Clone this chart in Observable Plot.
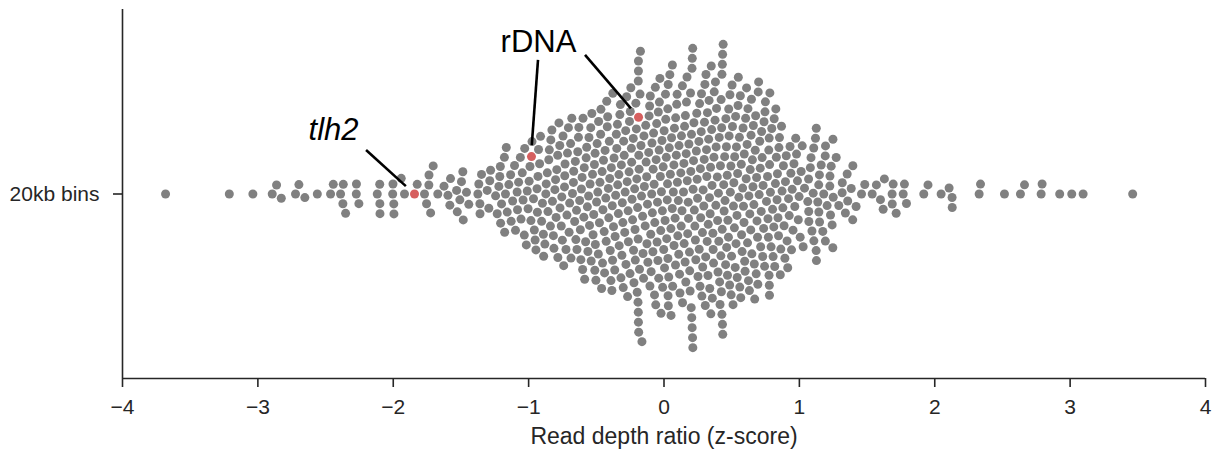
<!DOCTYPE html>
<html>
<head>
<meta charset="utf-8">
<script src="https://cdn.jsdelivr.net/npm/d3@7"></script>
<script src="https://cdn.jsdelivr.net/npm/@observablehq/plot@0.6"></script>
<style>
  html, body { margin: 0; padding: 0; background: #fff; }
  svg { display: block; }
</style>
</head>
<body>
<div id="chart"></div>
<script>
// Genome-wide read depth ratio of 20 kb bins (z-scores), drawn as a beeswarm.
const category = "20kb bins";
const xLabel = "Read depth ratio (z-score)";
const xTicks = [-4, -3, -2, -1, 0, 1, 2, 3, 4];

// z-scores of all ordinary bins
const binScores = [
  -3.682, -3.211, -3.037, -2.894, -2.862, -2.827, -2.722, -2.697, -2.653, -2.561,
  -2.463, -2.443, -2.389, -2.372, -2.369, -2.352, -2.273, -2.272, -2.254, -2.118,
  -2.100, -2.099, -2.098, -2.004, -2.002, -1.996, -1.995, -1.941, -1.917,
  -1.823, -1.769, -1.754, -1.737, -1.736, -1.724, -1.705, -1.671, -1.625, -1.596,
  -1.582, -1.577, -1.532, -1.527, -1.508, -1.496, -1.486, -1.483, -1.459, -1.442,
  -1.375, -1.368, -1.360, -1.359, -1.348, -1.306, -1.294, -1.287, -1.281, -1.244,
  -1.232, -1.220, -1.213, -1.209, -1.207,
  -1.200, -1.179, -1.177, -1.171, -1.165, -1.158,
  -1.146, -1.133, -1.129, -1.118, -1.104,
  -1.097, -1.085, -1.082, -1.074, -1.061, -1.056,
  -1.047, -1.041, -1.032, -1.029, -1.017, -1.010, -1.004,
  -0.996, -0.990, -0.983, -0.975, -0.964, -0.958, -0.952,
  -0.946, -0.938, -0.935, -0.931, -0.927, -0.919, -0.912, -0.904,
  -0.898, -0.891, -0.889, -0.880, -0.873, -0.870, -0.862, -0.857, -0.851,
  -0.847, -0.839, -0.836, -0.828, -0.824, -0.817, -0.813, -0.806, -0.801,
  -0.797, -0.792, -0.785, -0.784, -0.776, -0.770, -0.768, -0.759, -0.755, -0.751,
  -0.746, -0.741, -0.735, -0.733, -0.731, -0.724, -0.717, -0.713, -0.706, -0.701,
  -0.697, -0.690, -0.687, -0.681, -0.676, -0.669, -0.667, -0.660, -0.655, -0.651,
  -0.646, -0.643, -0.637, -0.632, -0.629, -0.623, -0.618, -0.614, -0.610, -0.605, -0.601,
  -0.598, -0.592, -0.589, -0.586, -0.579, -0.575, -0.571, -0.566, -0.562, -0.557, -0.554, -0.550,
  -0.546, -0.541, -0.538, -0.533, -0.528, -0.524, -0.519, -0.514, -0.511, -0.509, -0.507, -0.503,
  -0.498, -0.494, -0.489, -0.485, -0.483, -0.477, -0.473, -0.468, -0.466, -0.461, -0.457, -0.454, -0.451,
  -0.447, -0.442, -0.439, -0.435, -0.430, -0.427, -0.423, -0.419, -0.416, -0.411, -0.408, -0.404, -0.401,
  -0.397, -0.392, -0.389, -0.385, -0.382, -0.380, -0.378, -0.373, -0.369, -0.364, -0.361, -0.357, -0.352,
  -0.349, -0.344, -0.342, -0.337, -0.333, -0.331, -0.326, -0.322, -0.318, -0.315, -0.311, -0.308, -0.304, -0.301,
  -0.298, -0.294, -0.290, -0.287, -0.283, -0.281, -0.276, -0.272, -0.269, -0.265, -0.263, -0.258, -0.255, -0.251,
  -0.249, -0.245, -0.241, -0.239, -0.236, -0.232, -0.227, -0.225, -0.222, -0.217, -0.214, -0.212, -0.208, -0.204, -0.201,
  -0.198, -0.195, -0.192, -0.191, -0.190, -0.190, -0.189, -0.189, -0.189, -0.187, -0.186, -0.184, -0.181, -0.177, -0.174, -0.170, -0.166, -0.163, -0.158, -0.155, -0.151,
  -0.148, -0.145, -0.139, -0.135, -0.132, -0.128, -0.126, -0.122, -0.119, -0.113, -0.110, -0.106, -0.104, -0.101,
  -0.098, -0.095, -0.091, -0.089, -0.086, -0.082, -0.080, -0.077, -0.073, -0.070, -0.068, -0.064, -0.061, -0.058, -0.054, -0.051,
  -0.048, -0.045, -0.042, -0.039, -0.036, -0.034, -0.030, -0.027, -0.024, -0.022, -0.019, -0.015, -0.012, -0.010, -0.006, -0.002,
  0.001, 0.004, 0.008, 0.011, 0.013, 0.017, 0.020, 0.024, 0.026, 0.028, 0.029, 0.030, 0.031, 0.032, 0.035, 0.039, 0.043, 0.047,
  0.051, 0.052, 0.056, 0.061, 0.062, 0.064, 0.069, 0.073, 0.074, 0.077, 0.082, 0.085, 0.086, 0.091, 0.094, 0.097, 0.099,
  0.102, 0.106, 0.109, 0.111, 0.115, 0.118, 0.124, 0.127, 0.129, 0.133, 0.136, 0.137, 0.144, 0.147, 0.149,
  0.152, 0.156, 0.158, 0.161, 0.164, 0.166, 0.170, 0.172, 0.175, 0.179, 0.181, 0.184, 0.188, 0.190, 0.193, 0.196, 0.198,
  0.201, 0.203, 0.205, 0.207, 0.208, 0.209, 0.211, 0.212, 0.213, 0.215, 0.218, 0.221, 0.224, 0.228, 0.232, 0.235, 0.239, 0.242, 0.245, 0.248,
  0.251, 0.258, 0.260, 0.263, 0.266, 0.269, 0.271, 0.275, 0.277, 0.280, 0.284, 0.286, 0.289, 0.294, 0.297, 0.299,
  0.302, 0.305, 0.308, 0.310, 0.314, 0.316, 0.319, 0.321, 0.325, 0.327, 0.330, 0.333, 0.336, 0.338, 0.341, 0.344, 0.346, 0.349,
  0.352, 0.355, 0.357, 0.361, 0.363, 0.366, 0.369, 0.371, 0.377, 0.380, 0.383, 0.385, 0.388, 0.394, 0.396, 0.399,
  0.402, 0.405, 0.408, 0.411, 0.414, 0.417, 0.420, 0.422, 0.424, 0.426, 0.428, 0.428, 0.430, 0.431, 0.432, 0.433, 0.434, 0.437, 0.441, 0.444, 0.448,
  0.451, 0.455, 0.457, 0.461, 0.463, 0.467, 0.469, 0.472, 0.476, 0.478, 0.481, 0.485, 0.487, 0.490, 0.494, 0.496, 0.499,
  0.503, 0.506, 0.510, 0.513, 0.516, 0.520, 0.522, 0.526, 0.529, 0.532, 0.535, 0.539, 0.541, 0.544, 0.547, 0.549,
  0.553, 0.557, 0.560, 0.564, 0.567, 0.571, 0.573, 0.577, 0.581, 0.584, 0.587, 0.591, 0.593, 0.596, 0.599,
  0.603, 0.607, 0.610, 0.614, 0.617, 0.620, 0.624, 0.627, 0.631, 0.634, 0.637, 0.641, 0.643, 0.646, 0.649,
  0.653, 0.657, 0.660, 0.664, 0.667, 0.670, 0.674, 0.677, 0.681, 0.684, 0.687, 0.691, 0.693, 0.696, 0.699,
  0.703, 0.707, 0.711, 0.714, 0.718, 0.721, 0.725, 0.729, 0.732, 0.736, 0.739, 0.743, 0.746, 0.749,
  0.757, 0.765, 0.768, 0.771, 0.774, 0.776, 0.777, 0.778, 0.779, 0.780, 0.782, 0.786, 0.791, 0.796,
  0.802, 0.806, 0.811, 0.814, 0.818, 0.823, 0.826, 0.830, 0.835, 0.838, 0.842, 0.846, 0.849,
  0.853, 0.859, 0.863, 0.868, 0.872, 0.878, 0.882, 0.887, 0.893, 0.897,
  0.903, 0.909, 0.914, 0.920, 0.925, 0.931, 0.937, 0.942, 0.947,
  0.953, 0.960, 0.966, 0.973, 0.979, 0.986, 0.992, 0.998,
  1.006, 1.013, 1.021, 1.028, 1.038, 1.062, 1.068, 1.069, 1.070, 1.081,
  1.086, 1.093, 1.102, 1.106, 1.107, 1.119, 1.124, 1.125, 1.126, 1.136,
  1.143, 1.144, 1.148, 1.149, 1.161, 1.173, 1.180, 1.191, 1.192, 1.193,
  1.205, 1.225, 1.226, 1.230, 1.235, 1.242, 1.247, 1.248, 1.250, 1.272,
  1.291, 1.316, 1.317, 1.340, 1.353, 1.357, 1.383, 1.394, 1.395, 1.419,
  1.459, 1.483, 1.538, 1.569, 1.599, 1.619, 1.628, 1.685, 1.686, 1.693,
  1.715, 1.767, 1.776, 1.791, 1.919, 1.950, 2.047, 2.106, 2.128, 2.129,
  2.328, 2.338, 2.515, 2.633, 2.663, 2.786, 2.793, 2.923, 3.012, 3.096,
  3.462
];

// bins of interest, drawn in red and labelled
const highlightNames = ["tlh2", "rDNA", "rDNA"];
const highlightScores = [-1.843, -0.979, -0.188];

const grey = "#808080";
const red = "#d65f5f";
const ink = "#262626";
const font = "'Liberation Sans', Arial, Helvetica, sans-serif";

// one sorted table, so the swarm is packed from left to right
const points = [
  ...binScores.map((z) => ({z, hit: false})),
  ...highlightScores.map((z, i) => ({z, hit: true, name: highlightNames[i]}))
].sort((a, b) => a.z - b.z);

// label placement in chart units (the category band runs from -0.5 to 0.5)
const labelSpecs = [
  {text: "tlh2", z: -2.441, y: 0.172, italic: true},
  {text: "rDNA", z: -0.927, y: 0.411, italic: false}
];
// leader lines: start offset (px) from the label centre, then to the red dot
const leaderSpecs = [
  {label: 0, target: 0, start: [33, 20]},
  {label: 1, target: 1, start: [0, 18]},
  {label: 1, target: 2, start: [47, 13]}
];

const width = 1222, height = 454;
const margin = {top: 9, right: 17, bottom: 76, left: 122};

const chart = Plot.plot({
  width, height,
  marginTop: margin.top, marginRight: margin.right,
  marginBottom: margin.bottom, marginLeft: margin.left,
  style: {fontFamily: font, fontSize: "21px", color: ink, background: "#fff", overflow: "visible"},
  x: {domain: [-4, 4]},
  y: {domain: [-0.5, 0.5]},
  marks: [
    Plot.axisX({ticks: xTicks, tickSize: 9, tickPadding: 12, label: null, strokeWidth: 1.6, stroke: ink}),
    Plot.axisY({ticks: [0], tickFormat: () => category, tickSize: 9, tickPadding: 14, label: null, strokeWidth: 1.6, stroke: ink}),
    Plot.ruleX([-4], {stroke: ink, strokeWidth: 1.6}),
    Plot.ruleY([-0.5], {stroke: ink, strokeWidth: 1.6}),
    Plot.dot(points, Plot.dodgeY({
      anchor: "middle",
      x: "z",
      r: 4.5,
      padding: 1,
      fill: (d) => d.hit ? red : grey,
      stroke: null
    })),
    Plot.text([xLabel], {frameAnchor: "bottom", dy: 65, fontSize: 23, fill: ink}),
    Plot.text(labelSpecs.filter((d) => d.italic), {
      x: "z", y: "y", text: "text",
      fontSize: 31, fontStyle: "italic", fill: "#000"
    }),
    Plot.text(labelSpecs.filter((d) => !d.italic), {
      x: "z", y: "y", text: "text",
      fontSize: 31, fill: "#000"
    })
  ]
});

document.getElementById("chart").appendChild(chart);

// Leader lines from each label to the placed position of its red dot.
(function drawLeaders() {
  const xs = chart.scale("x");
  const ys = chart.scale("y");
  const redDots = Array.from(chart.querySelectorAll("circle"))
    .filter((c) => (c.getAttribute("fill") || "").toLowerCase() === red)
    .map((c) => ({cx: +c.getAttribute("cx"), cy: +c.getAttribute("cy")}));
  const g = d3.select(chart).append("g")
    .attr("stroke", "#000").attr("stroke-width", 2.6).attr("stroke-linecap", "butt");
  for (const L of leaderSpecs) {
    const lab = labelSpecs[L.label];
    const tx = xs.apply(highlightScores[L.target]);
    const dot = redDots.reduce((best, c) => (!best || Math.abs(c.cx - tx) < Math.abs(best.cx - tx)) ? c : best, null);
    if (!dot) continue;
    const x0 = xs.apply(lab.z) + L.start[0];
    const y0 = ys.apply(lab.y) + L.start[1];
    const dx = dot.cx - x0, dy = dot.cy - y0;
    const len = Math.hypot(dx, dy);
    const shrink = 11;
    g.append("line")
      .attr("x1", x0).attr("y1", y0)
      .attr("x2", x0 + dx * (len - shrink) / len)
      .attr("y2", y0 + dy * (len - shrink) / len);
  }
})();
</script>
</body>
</html>
